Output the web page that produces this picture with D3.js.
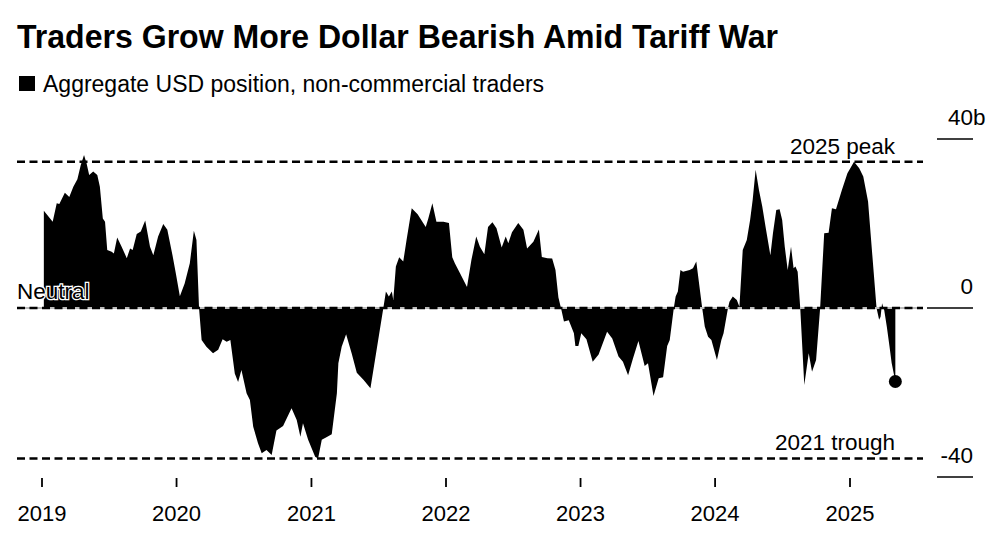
<!DOCTYPE html>
<html lang="en">
<head>
    <meta charset="UTF-8">
    <title>Traders Grow More Dollar Bearish Amid Tariff War</title>
    <script src="https://d3js.org/d3.v7.min.js" charset="UTF-8"></script>
    <style>
        body { margin: 0; background: #fff; }
        text { font-family: "Liberation Sans", Arial, Helvetica, sans-serif; fill: #000; }
    </style>
</head>
<body>
    <script>
        // weekly-ish readings, aggregate USD position (billions)
        var dates = [
            "2019-01-06","2019-01-30","2019-02-10","2019-02-17","2019-03-04","2019-03-16","2019-03-27","2019-04-07","2019-04-16","2019-04-25",
            "2019-05-02","2019-05-09","2019-05-20","2019-05-31","2019-06-07","2019-06-15","2019-06-21","2019-06-27","2019-07-09","2019-07-15",
            "2019-07-24","2019-08-05","2019-08-19","2019-08-28","2019-09-04","2019-09-15","2019-09-26","2019-10-08","2019-10-21","2019-10-30",
            "2019-11-12","2019-11-26","2019-12-07","2019-12-21","2019-12-30",
            "2020-01-10","2020-01-23","2020-02-06","2020-02-17","2020-02-24","2020-03-02","2020-03-09","2020-03-22","2020-04-09","2020-04-23",
            "2020-05-05","2020-05-16","2020-05-26","2020-06-07","2020-06-16","2020-06-25","2020-07-09","2020-07-18","2020-07-27","2020-08-09",
            "2020-08-19","2020-09-01","2020-09-15","2020-09-28","2020-10-16","2020-11-08","2020-11-22","2020-12-02","2020-12-09","2020-12-23",
            "2021-01-11","2021-01-19","2021-01-29","2021-02-13","2021-02-25","2021-03-11","2021-03-15","2021-03-24","2021-04-05","2021-04-20",
            "2021-05-04","2021-05-22","2021-06-10","2021-06-22","2021-07-04","2021-07-15","2021-07-22","2021-07-30","2021-08-07","2021-08-11",
            "2021-08-18","2021-08-27","2021-09-07","2021-09-16","2021-09-30","2021-10-16","2021-11-07","2021-11-14","2021-11-25","2021-12-06","2021-12-25",
            "2022-01-09","2022-01-18","2022-01-25","2022-02-08","2022-02-27","2022-03-11","2022-03-24","2022-04-03","2022-04-15","2022-04-25",
            "2022-05-07","2022-05-18","2022-06-01","2022-06-12","2022-06-19","2022-06-29","2022-07-16","2022-07-30","2022-08-09","2022-08-26",
            "2022-09-10","2022-09-18","2022-10-03","2022-10-16","2022-10-25","2022-11-02","2022-11-10","2022-11-17","2022-11-30","2022-12-14","2022-12-18","2022-12-26",
            "2023-01-03","2023-01-17","2023-02-03","2023-02-19","2023-03-14","2023-03-28","2023-04-14","2023-04-26","2023-05-10","2023-05-23",
            "2023-06-07","2023-06-24","2023-07-03","2023-07-18","2023-08-01","2023-08-13","2023-08-24","2023-08-31","2023-09-11","2023-09-16",
            "2023-09-22","2023-09-29","2023-10-06","2023-10-24","2023-11-02","2023-11-11","2023-11-27","2023-12-04","2023-12-13","2023-12-22",
            "2024-01-06","2024-01-18","2024-01-24","2024-02-05","2024-02-09","2024-02-18","2024-02-29","2024-03-07","2024-03-16","2024-03-27",
            "2024-04-05","2024-04-12","2024-04-20","2024-04-29","2024-05-08","2024-05-17","2024-05-30","2024-06-06","2024-06-15","2024-06-24",
            "2024-07-01","2024-07-08","2024-07-16","2024-07-25","2024-08-01","2024-08-06","2024-08-12","2024-08-19","2024-08-30","2024-09-11",
            "2024-09-20","2024-10-01","2024-10-12","2024-10-23","2024-11-04","2024-11-13","2024-11-24","2024-12-10","2024-12-25",
            "2025-01-12","2025-01-26","2025-02-06","2025-02-19","2025-03-05","2025-03-14","2025-03-21","2025-03-25","2025-03-29","2025-04-04",
            "2025-04-11","2025-04-18","2025-04-24","2025-05-04"
        ];
        var positions = [
            23.0,20.4,24.8,24.6,27.3,26.3,28.7,30.5,33.8,36.2, 34.2,31.5,32.3,31.5,28.7,21.2,20.4,13.7,13.3,12.9,
            16.7,14.5,11.8,14.1,13.7,17.5,18.1,20.7,14.5,12.5, 16.9,19.9,18.5,12.5,8.2,
            2.8,5.8,10.6,18.3,16.1,0,-7.6,-9.2,-10.7,-9.9, -7.4,-8.0,-7.6,-15.5,-17.5,-14.7,-20.2,-21.8,-28.1,-32.0,
            -34.4,-33.6,-34.8,-29.0,-27.9,-23.7,-26.5,-30.5,-27.3,-31.2,
            -35.2,-35.6,-31.2,-30.5,-29.9,-20.2,-13.1,-9.2,-6.2,-10.7, -15.3,-17.0,-19.0,-12.5,-6.0,0,3.9,2.7,3.9,1.9,
            9.8,12.0,11.0,16.1,23.6,22.2,19.2,21.2,24.8,20.4,20.4,
            20.1,12.0,10.6,8.2,5.0,11.4,16.9,14.5,12.7,19.2, 20.3,18.9,14.3,16.9,15.3,17.9,20.1,18.5,14.1,15.7,
            18.6,12.1,11.8,11.7,9.0,2.5,-0.4,-3.2,-2.9,-6.0,-9.0,-9.0,
            -6.0,-7.4,-12.7,-11.0,-5.6,-7.2,-11.5,-12.7,-15.9,-12.0, -7.8,-13.7,-13.1,-20.8,-16.6,-16.4,-9.0,-7.6,0,2.7,
            3.9,9.0,8.6,9.0,9.4,11.0,0,-4.4,-6.8,-7.6,
            -12.3,-7.6,-6.0,0,1.5,2.7,1.9,0.3,13.7,16.1, 20.8,25.6,32.7,27.9,24.0,19.2,12.5,17.7,23.2,23.4,
            20.8,14.5,9.0,14.5,9.4,9.8,8.6,0,-18.2,-10.7, -15.1,-12.3,0,17.7,17.8,23.6,23.4,27.9,31.9,
            34.6,33.1,31.1,25.2,9.8,0,-2.8,-2.1,1.1,-0.6, -4.5,-9.0,-13.0,-17.4
        ];
        var yearTicks = ["2019","2020","2021","2022","2023","2024","2025"];
        var yTicks = [40, 0, -40];

        var width = 1000;
        var height = 545;
        var svg = d3.select("body").append("svg")
                .attr("width", width).attr("height", height);

        var parse = d3.timeParse("%Y-%m-%d");
        var data = dates.map(function(d, i){ return {date: parse(d), value: positions[i]}; });

        var x = d3.scaleTime()
                .domain([parse("2019-01-01"), parse("2025-01-01")])
                .range([42, 850]);
        var y = d3.scaleLinear().domain([-40, 40]).range([477, 139]);

        var peak = d3.max(data.filter(function(d){ return d.date.getFullYear() === 2025; }), function(d){ return d.value; });
        var trough = d3.min(data.filter(function(d){ return d.date.getFullYear() === 2021; }), function(d){ return d.value; });

        /* title + legend */
        svg.append("text").attr("x", 17).attr("y", 48)
                .attr("font-size", 33).attr("font-weight", "bold")
                .attr("textLength", 761).attr("lengthAdjust", "spacingAndGlyphs")
                .text("Traders Grow More Dollar Bearish Amid Tariff War");
        svg.append("rect").attr("x", 19).attr("y", 76).attr("width", 16).attr("height", 15).attr("fill", "#000");
        svg.append("text").attr("x", 43).attr("y", 92).attr("font-size", 23)
                .text("Aggregate USD position, non-commercial traders");

        /* area */
        var area = d3.area()
                .x(function(d){ return x(d.date); })
                .y0(y(0))
                .y1(function(d){ return y(d.value); });
        svg.append("path").datum(data).attr("d", area).attr("fill", "#000");

        /* reference lines */
        svg.append("line").attr("x1", 17).attr("x2", 923).attr("y1", y(0)).attr("y2", y(0))
                .attr("stroke", "#bbb").attr("stroke-width", 2);
        [peak, 0, trough].forEach(function(v){
            svg.append("line").attr("x1", 17).attr("x2", 923).attr("y1", y(v)).attr("y2", y(v))
                    .attr("stroke", "#000").attr("stroke-width", 2.5).attr("stroke-dasharray", "8,4.5");
        });

        svg.append("text").attr("x", 17).attr("y", y(0) - 9).attr("font-size", 22.5)
                .attr("stroke", "#fff").attr("stroke-width", 2.5).attr("paint-order", "stroke")
                .text("Neutral");
        svg.append("text").attr("x", 895).attr("y", y(peak) - 8).attr("font-size", 22.5)
                .attr("text-anchor", "end").text("2025 peak");
        svg.append("text").attr("x", 895).attr("y", y(trough) - 8).attr("font-size", 22.5)
                .attr("text-anchor", "end").text("2021 trough");

        /* last point */
        var last = data[data.length - 1];
        svg.append("circle").attr("cx", x(last.date)).attr("cy", y(last.value)).attr("r", 6.5).attr("fill", "#000");

        /* y axis on right */
        var yAxis = svg.append("g").selectAll("g").data(yTicks).enter().append("g");
        yAxis.append("line")
                .attr("x1", function(d){ return d === 0 ? 927 : 937; }).attr("x2", 973)
                .attr("y1", function(d){ return y(d); }).attr("y2", function(d){ return y(d); })
                .attr("stroke", "#000").attr("stroke-width", 1.6);
        var yLabel = yAxis.append("text")
                .attr("x", 973).attr("y", function(d){ return y(d) - 14; })
                .attr("font-size", 22.5).attr("text-anchor", "start");
        yLabel.each(function(d){
            var t = d3.select(this);
            var s = String(d).replace("-", "-");
            t.append("tspan").text(s);
            var w = this.getComputedTextLength();
            t.attr("x", 973 - w);
            if (d === 40) t.append("tspan").text("b");
        });

        /* x axis */
        var xAxis = svg.append("g").selectAll("g").data(yearTicks).enter().append("g")
                .attr("transform", function(d){ return "translate(" + x(parse(d + "-01-01")) + ",0)"; });
        xAxis.append("line").attr("y1", 478).attr("y2", 487).attr("stroke", "#000").attr("stroke-width", 1.8);
        xAxis.append("text").attr("y", 521).attr("font-size", 22).attr("text-anchor", "middle")
                .text(function(d){ return d; });
    </script>
</body>
</html>
